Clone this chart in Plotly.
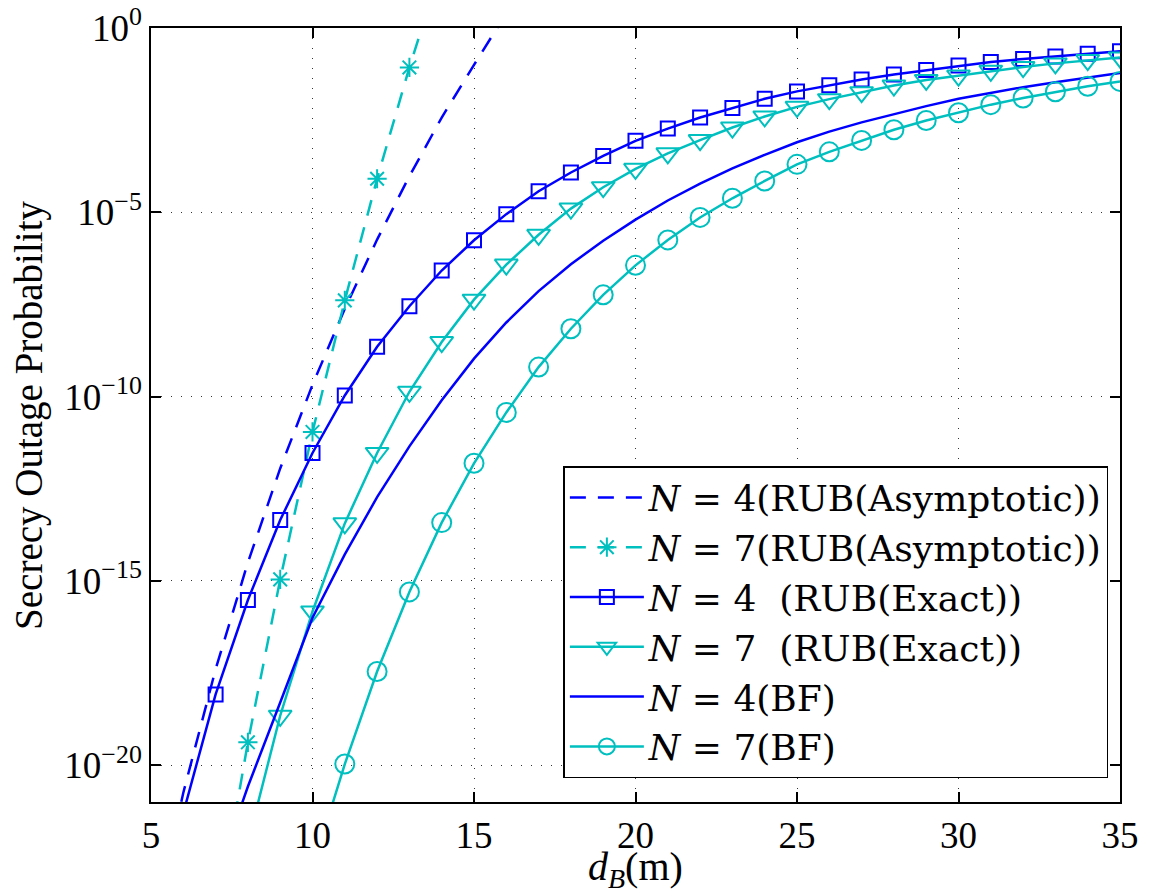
import plotly.graph_objects as go

# Distance to Bob (m) for each curve, and log10 of the secrecy outage probability
asym4_x = list(range(5, 17))
asym4_exp = [-24.7, -20.75, -17.4, -14.5, -11.95, -9.68, -7.62, -5.74, -4.02, -2.43, -1.0, 0.4]

asym7_x = list(range(7, 15))
asym7_exp = [-24.4, -19.38, -14.96, -10.96, -7.39, -4.09, -1.07, 1.7]

exact4_x = list(range(6, 36))
exact4_exp = [-21.3, -18.08, -15.52, -13.35, -11.53, -9.97, -8.65, -7.55, -6.58, -5.76,
              -5.05, -4.43, -3.92, -3.47, -3.06, -2.73, -2.43, -2.17, -1.92, -1.72,
              -1.55, -1.40, -1.26, -1.14, -1.02, -0.92, -0.84, -0.77, -0.70, -0.63]

exact7_x = list(range(8, 36))
exact7_exp = [-22.1, -18.66, -15.83, -13.44, -11.53, -9.87, -8.52, -7.37, -6.42, -5.61,
              -4.90, -4.32, -3.82, -3.40, -3.04, -2.70, -2.40, -2.14, -1.93, -1.74,
              -1.56, -1.41, -1.29, -1.16, -1.06, -0.96, -0.87, -0.80]

bf4_x = list(range(7, 36))
bf4_exp = [-23.1, -20.58, -18.3, -16.0, -14.28, -12.73, -11.35, -10.10, -8.97, -7.99,
           -7.14, -6.41, -5.77, -5.20, -4.68, -4.22, -3.81, -3.44, -3.10, -2.81,
           -2.56, -2.33, -2.12, -1.92, -1.755, -1.605, -1.47, -1.34, -1.22]

bf7_x = list(range(10, 36))
bf7_exp = [-22.8, -19.97, -17.46, -15.3, -13.42, -11.81, -10.43, -9.2, -8.16, -7.24,
           -6.44, -5.75, -5.14, -4.62, -4.15, -3.70, -3.36, -3.05, -2.76, -2.51,
           -2.30, -2.08, -1.90, -1.73, -1.58, -1.45]

x_ticks = [5, 10, 15, 20, 25, 30, 35]
y_tick_exps = [0, -5, -10, -15, -20]

names = [
    "<i>N</i> = 4(RUB(Asymptotic))",
    "<i>N</i> = 7(RUB(Asymptotic))",
    "<i>N</i> = 4  (RUB(Exact))",
    "<i>N</i> = 7  (RUB(Exact))",
    "<i>N</i> = 4(BF)",
    "<i>N</i> = 7(BF)",
]

BLUE = "#0000FF"
CYAN = "#00BFBF"
LW = 2.5
DASH = "16px,12px"
SERIF = "Liberation Serif"
LEGEND_FONT = "DejaVu Serif"


def pw(exps):
    return [10.0 ** e for e in exps]


fig = go.Figure()

fig.add_trace(go.Scatter(
    x=asym4_x, y=pw(asym4_exp), name=names[0], mode="lines", legendgroup="g0",
    line=dict(color=BLUE, width=LW, dash=DASH)))

fig.add_trace(go.Scatter(
    x=asym7_x, y=pw(asym7_exp), name=names[1], mode="lines+markers", legendgroup="g1",
    line=dict(color=CYAN, width=LW, dash=DASH),
    marker=dict(symbol="asterisk-open", size=16, color=CYAN,
                line=dict(color=CYAN, width=2))))

fig.add_trace(go.Scatter(
    x=exact4_x, y=pw(exact4_exp), name=names[2], mode="lines+markers", legendgroup="g2",
    line=dict(color=BLUE, width=LW),
    marker=dict(symbol="square-open", size=14, color=BLUE,
                line=dict(color=BLUE, width=2))))

fig.add_trace(go.Scatter(
    x=exact7_x, y=pw(exact7_exp), name=names[3], mode="lines+markers", legendgroup="g3",
    line=dict(color=CYAN, width=LW),
    marker=dict(symbol="triangle-down-open", size=20, color=CYAN,
                line=dict(color=CYAN, width=2))))

fig.add_trace(go.Scatter(
    x=bf4_x, y=pw(bf4_exp), name=names[4], mode="lines", legendgroup="g4",
    line=dict(color=BLUE, width=LW)))

fig.add_trace(go.Scatter(
    x=bf7_x, y=pw(bf7_exp), name=names[5], mode="lines+markers", legendgroup="g5",
    line=dict(color=CYAN, width=LW),
    marker=dict(symbol="circle-open", size=19, color=CYAN,
                line=dict(color=CYAN, width=2))))

axis_common = dict(
    showline=True, linecolor="black", linewidth=1.5, mirror="ticks",
    ticks="inside", ticklen=10, tickwidth=1.5, tickcolor="black",
    showgrid=True, gridcolor="#333333", gridwidth=1, griddash="1px,9px",
    zeroline=False, automargin=False,
    tickfont=dict(family=SERIF, size=37, color="black"),
)

fig.update_xaxes(range=[5, 35], tickvals=x_ticks,
                 ticktext=[str(v) for v in x_ticks], **axis_common)
fig.update_yaxes(type="log", range=[-21, 0],
                 tickvals=[10.0 ** e for e in y_tick_exps],
                 ticktext=["10<sup>%s</sup>" % (str(e).replace("-", "\u2212")) for e in y_tick_exps],
                 **axis_common)

fig.update_layout(
    width=1156, height=896,
    margin=dict(l=151, r=36, t=28, b=94, autoexpand=False),
    paper_bgcolor="white", plot_bgcolor="white",
    font=dict(family=SERIF, color="black"),
    showlegend=True,
    legend=dict(
        x=0.988, xanchor="right", y=0.031, yanchor="bottom",
        bgcolor="white", bordercolor="black", borderwidth=1.5,
        font=dict(family=LEGEND_FONT, size=36, color="black"),
        itemwidth=74, tracegroupgap=0,
    ),
    annotations=[
        dict(text="<i>d</i><sub><i>B</i></sub>(m)", xref="paper", yref="paper",
             x=0.5, y=-0.1212, xanchor="center", yanchor="bottom", showarrow=False,
             font=dict(family=SERIF, size=40, color="black")),
        dict(text="Secrecy Outage Probability", xref="paper", yref="paper",
             x=-0.126, y=0.5, xanchor="center", yanchor="middle", textangle=-90,
             showarrow=False, font=dict(family=SERIF, size=39, color="black")),
    ],
)

fig.write_html("out.html")
